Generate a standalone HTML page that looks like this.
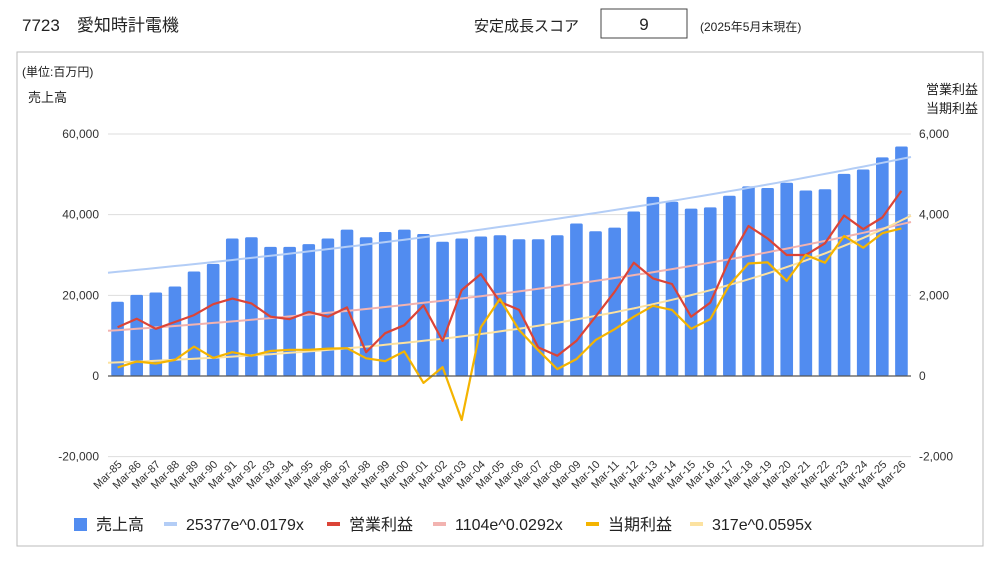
<!DOCTYPE html>
<html><head><meta charset="utf-8">
<style>
body{margin:0;background:#fff;width:1000px;height:563px;overflow:hidden;font-family:"Liberation Sans","Noto Sans CJK JP",sans-serif;}
svg text{font-family:"Liberation Sans","Noto Sans CJK JP",sans-serif;}
</style></head><body>
<svg id="c" width="1000" height="563" viewBox="0 0 1000 563">
<text x="22" y="31" font-size="17" fill="#222">7723　愛知時計電機</text>
<text x="474" y="31" font-size="15" fill="#222">安定成長スコア</text>
<rect x="601" y="9" width="86" height="29" fill="#fff" stroke="#444"/>
<text x="644" y="30" font-size="17" text-anchor="middle" fill="#222">9</text>
<text x="700" y="31" font-size="12" fill="#222">(2025年5月末現在)</text>
<rect x="17" y="52" width="966" height="494" fill="#fff" stroke="#bbb"/>
<text x="22" y="76" font-size="12" fill="#222">(単位:百万円)</text>
<text x="28" y="102" font-size="13" fill="#222">売上高</text>
<text x="978" y="94" font-size="13" text-anchor="end" fill="#222">営業利益</text>
<text x="978" y="113" font-size="13" text-anchor="end" fill="#222">当期利益</text>
<g id="grid"></g><g id="bars"></g><g id="lines"></g><g id="axes"></g><g id="legend"></g>
</svg>
<script>
const categories=["Mar-85","Mar-86","Mar-87","Mar-88","Mar-89","Mar-90","Mar-91","Mar-92","Mar-93","Mar-94","Mar-95","Mar-96","Mar-97","Mar-98","Mar-99","Mar-00","Mar-01","Mar-02","Mar-03","Mar-04","Mar-05","Mar-06","Mar-07","Mar-08","Mar-09","Mar-10","Mar-11","Mar-12","Mar-13","Mar-14","Mar-15","Mar-16","Mar-17","Mar-18","Mar-19","Mar-20","Mar-21","Mar-22","Mar-23","Mar-24","Mar-25","Mar-26"];
const sales=[18400,20100,20700,22200,25900,27800,34100,34400,32000,32000,32700,34100,36300,34400,35700,36300,35200,33300,34100,34600,34900,33900,33900,34900,37800,35900,36800,40800,44400,43200,41500,41800,44700,47000,46600,47900,46000,46300,50100,51200,54200,56900];
const opProfit=[1210,1420,1170,1340,1510,1780,1920,1800,1470,1410,1590,1470,1700,590,1060,1260,1750,870,2130,2530,1840,1640,710,500,870,1470,2090,2810,2420,2280,1470,1820,2880,3720,3410,3000,3000,3290,3980,3640,3930,4590];
const netProfit=[210,360,310,400,730,450,590,500,620,650,650,680,690,440,370,610,-170,220,-1090,1210,1910,1140,640,170,420,890,1160,1470,1740,1640,1170,1410,2260,2790,2820,2360,3000,2810,3470,3180,3540,3660];
const leftTicks=[-20000,0,20000,40000,60000];
const rightTicks=[-2000,0,2000,4000,6000];
const trendSales=[25377,0.0179];
const trendOp=[1104,0.0292];
const trendNet=[317,0.0595];
const NS="http://www.w3.org/2000/svg";
const X0=108,X1=911,YTOP=134,YZERO=376,YBOT=457;
const n=categories.length, step=(X1-X0)/n;
function xPos(i){return X0+step*(i+0.5);}
function yL(v){return YZERO-(v/60000)*(YZERO-YTOP);}
function yR(v){return YZERO-(v/6000)*(YZERO-YTOP);}
function el(tag,attrs,parent){const e=document.createElementNS(NS,tag);for(const k in attrs)e.setAttribute(k,attrs[k]);parent.appendChild(e);return e;}
const grid=document.getElementById('grid'),axes=document.getElementById('axes');
leftTicks.forEach((t,k)=>{
 const y=yL(t);
 const g=el('line',{x1:X0,x2:X1,y1:y,y2:y,stroke:t===0?'#555':'#ddd','stroke-width':t===0?1.2:1},t===0?axes:grid);
 
 
 const lt=el('text',{x:X0-9,y:y+4,'font-size':12,'text-anchor':'end',fill:'#333'},axes);
 lt.textContent=t.toLocaleString('en-US');
 
 
 const rt=el('text',{x:X1+8,y:yR(rightTicks[k])+4,'font-size':12,fill:'#333'},axes);
 rt.textContent=rightTicks[k].toLocaleString('en-US');
 
 
});
const bars=document.getElementById('bars');
sales.forEach((v,i)=>{
 const bw=step*0.66,y=yL(v);
 const r=el('rect',{x:xPos(i)-bw/2,y:Math.min(y,YZERO),width:bw,height:Math.abs(YZERO-y),fill:'#518cf0',rx:1.5},bars);
 
 
 const lab=el('text',{x:xPos(i)+5,y:YBOT+8,'font-size':11,'text-anchor':'end',fill:'#333',transform:`rotate(-45 ${xPos(i)+5} ${YBOT+8})`},axes);
 lab.textContent=categories[i];
 
 
});
const lines=document.getElementById('lines');
function trend(p,yf,color,name){
 let d='';
 for(let k=0;k<=84;k++){const xx=0.5+k*0.5;const v=p[0]*Math.exp(p[1]*xx);const px=X0+step*(xx-0.5);d+=(k?'L':'M')+px.toFixed(1)+','+yf(v).toFixed(1);}
 const pa=el('path',{d:d,fill:'none',stroke:color,'stroke-width':2},lines);
 
 
}
function series(arr,color,name){
 const d=arr.map((v,i)=>(i?'L':'M')+xPos(i).toFixed(1)+','+yR(v).toFixed(1)).join('');
 const pa=el('path',{d:d,fill:'none',stroke:color,'stroke-width':2.2,'stroke-linejoin':'round'},lines);
 
 
}
trend(trendSales,yL,'#b3cdf6','sales-trendline');
trend(trendOp,yR,'#f2b3b0','operating-profit-trendline');
trend(trendNet,yR,'#fce2a0','net-profit-trendline');
series(opProfit,'#db4437','operating-profit-line');
series(netProfit,'#f4b400','net-profit-line');
const leg=document.getElementById('legend');
const items=[['rect','#518cf0','売上高',74,'legend-sales'],['line','#b3cdf6','25377e^0.0179x',164,'legend-sales-trend'],['line','#db4437','営業利益',327,'legend-operating-profit'],['line','#f2b3b0','1104e^0.0292x',433,'legend-operating-trend'],['line','#f4b400','当期利益',586,'legend-net-profit'],['line','#fce2a0','317e^0.0595x',690,'legend-net-trend']];
items.forEach(it=>{
 const g=el('g',{},leg);
 
 
 if(it[0]==='rect')el('rect',{x:it[3],y:518,width:13,height:13,fill:it[1]},g);
 else el('rect',{x:it[3],y:522,width:13,height:4,fill:it[1]},g);
 const t=el('text',{x:it[3]+22,y:530,'font-size':16,fill:'#222'},g);
 t.textContent=it[2];
});
</script>
</body></html>
